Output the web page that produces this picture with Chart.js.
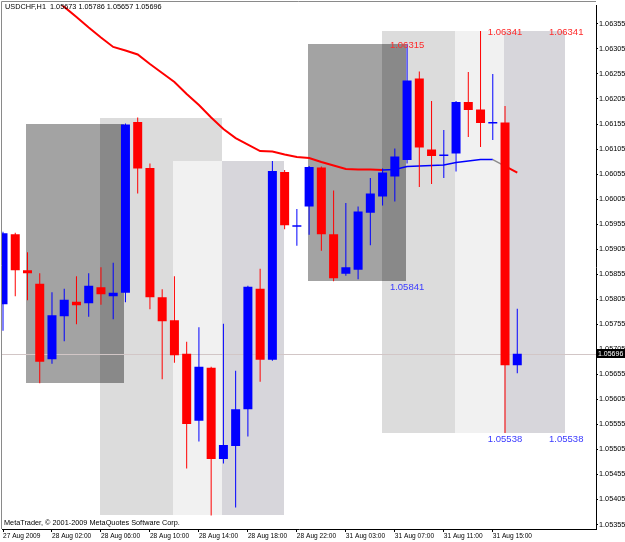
<!DOCTYPE html>
<html>
<head>
<meta charset="utf-8">
<script src="https://cdn.jsdelivr.net/npm/chart.js@4.4.0/dist/chart.umd.min.js"></script>
<style>
  body { margin: 0; background: #fff; }
  canvas { display: block; }
</style>
</head>
<body>
<canvas id="chart" width="625" height="542"></canvas>
<script>
// USDCHF H1 candles
const symbol = 'USDCHF,H1';
const opens  = [1.05795, 1.05935, 1.05863, 1.05836, 1.05685, 1.05771, 1.05800, 1.05797, 1.05829, 1.05811,
                1.05818, 1.06159, 1.06067, 1.05809, 1.05763, 1.05696, 1.05562, 1.05668, 1.05486, 1.05512,
                1.05585, 1.05826, 1.05684, 1.06059, 1.05950, 1.05990, 1.06068, 1.05935, 1.05856, 1.05864,
                1.05978, 1.06010, 1.06050, 1.06083, 1.06246, 1.06104, 1.06091, 1.06096, 1.06199, 1.06184,
                1.06156, 1.06158, 1.05673];
const highs  = [1.05940, 1.05938, 1.05899, 1.05857, 1.05819, 1.05826, 1.05851, 1.05857, 1.05869, 1.05878,
                1.06156, 1.06168, 1.06076, 1.05825, 1.05851, 1.05720, 1.05749, 1.05670, 1.05756, 1.05662,
                1.05832, 1.05866, 1.06081, 1.06063, 1.05985, 1.06071, 1.06070, 1.06022, 1.05997, 1.05990,
                1.06047, 1.06066, 1.06106, 1.06315, 1.06260, 1.06201, 1.06143, 1.06201, 1.06259, 1.06341,
                1.06255, 1.06191, 1.05786];
const lows   = [1.05742, 1.05811, 1.05803, 1.05637, 1.05676, 1.05721, 1.05755, 1.05770, 1.05794, 1.05765,
                1.05799, 1.06016, 1.05785, 1.05645, 1.05678, 1.05467, 1.05521, 1.05373, 1.05477, 1.05389,
                1.05531, 1.05640, 1.05682, 1.05945, 1.05912, 1.05934, 1.05902, 1.05841, 1.05852, 1.05845,
                1.05913, 1.05992, 1.06000, 1.06076, 1.06029, 1.06035, 1.06047, 1.06060, 1.06129, 1.06109,
                1.06123, 1.05538, 1.05657];
const closes = [1.05937, 1.05863, 1.05857, 1.05680, 1.05773, 1.05804, 1.05793, 1.05832, 1.05815, 1.05818,
                1.06154, 1.06066, 1.05809, 1.05761, 1.05693, 1.05556, 1.05670, 1.05486, 1.05514, 1.05585,
                1.05830, 1.05684, 1.06061, 1.05953, 1.05953, 1.06069, 1.05935, 1.05847, 1.05869, 1.05980,
                1.06016, 1.06058, 1.06090, 1.06242, 1.06108, 1.06091, 1.06094, 1.06199, 1.06183, 1.06157,
                1.06159, 1.05673, 1.05696];
// moving average (first bars run off the top)
const maLine = [1.06490, 1.06470, 1.06450, 1.06430, 1.06410, 1.06389, 1.06369, 1.06348, 1.06328, 1.06309,
                1.06302, 1.06294, 1.06275, 1.06257, 1.06239, 1.06215, 1.06193, 1.06168, 1.06145, 1.06127,
                1.06114, 1.06101, 1.06100, 1.06094, 1.06089, 1.06087, 1.06079, 1.06072, 1.06065, 1.06064,
                1.06064, 1.06063, 1.06064, 1.06070, 1.06071, 1.06072, 1.06073, 1.06078, 1.06081, 1.06084,
                1.06084, 1.06071, 1.06058];
const maBlue = [31, 40];   // segments drawn blue
const maGray = [40, 41];   // segment drawn gray

const tickBars   = [0, 4, 8, 12, 16, 20, 24, 28, 32, 36, 40];
const tickLabels = ['27 Aug 2009', '28 Aug 02:00', '28 Aug 06:00', '28 Aug 10:00', '28 Aug 14:00', '28 Aug 18:00',
                    '28 Aug 22:00', '31 Aug 03:00', '31 Aug 07:00', '31 Aug 11:00', '31 Aug 15:00'];
const priceTicks = [1.06355, 1.06305, 1.06255, 1.06205, 1.06155, 1.06105, 1.06055, 1.06005, 1.05955, 1.05905,
                    1.05855, 1.05805, 1.05755, 1.05705, 1.05655, 1.05605, 1.05555, 1.05505, 1.05455, 1.05405, 1.05355];

// rectangles: [fromBar, toBar, top price, bottom price]
const rangeBoxes = [[2, 10, 1.06156, 1.05637], [25, 33, 1.06315, 1.05841]];
const zonesA     = [[8, 18, 1.06168, 1.05373], [31, 41, 1.06341, 1.05538]];
const zonesB     = [[14, 23, 1.06081, 1.05373], [37, 46, 1.06341, 1.05538]];
// price tags: [bar, price, 'hi' | 'lo']
const priceTags  = [[33, 1.06315, 'hi'], [33, 1.05841, 'lo'], [41, 1.06341, 'hi'], [41, 1.05538, 'lo'],
                    [46, 1.06341, 'hi'], [46, 1.05538, 'lo']];

const FONT = '"Liberation Sans", Arial, sans-serif';
const RED = '#ff0000', BLUE = '#0000ff';
const last = closes.length - 1;

const barColors = opens.map((o, i) => closes[i] >= o ? BLUE : RED);
const wickData = lows.map((l, i) => ({x: i, y: [l, highs[i]]}));
const bodyData = opens.map((o, i) => ({x: i, y: [o, closes[i]]}));
const maData = maLine.map((v, i) => ({x: i, y: v}));

function maColor(i) {
    if (i >= maBlue[0] && i < maBlue[1]) return BLUE;
    if (i >= maGray[0] && i < maGray[1]) return '#8c8c8c';
    return RED;
}

function overlap(a, b) {
    return [Math.max(a[0], b[0]), Math.min(a[1], b[1]), Math.min(a[2], b[2]), Math.max(a[3], b[3])];
}

const overlay = {
    id: 'overlay',
    beforeDatasetsDraw(chart) {
        const {ctx, chartArea: a, scales: {x, y}} = chart;
        ctx.save();
        ctx.beginPath();
        ctx.rect(a.left, a.top, a.width, a.height);
        ctx.clip();
        const box = (r, col) => {
            const x0 = Math.round(x.getPixelForValue(r[0])) - 1, x1 = Math.round(x.getPixelForValue(r[1])) - 1;
            const y0 = Math.round(y.getPixelForValue(r[2])), y1 = Math.round(y.getPixelForValue(r[3]));
            if (x1 <= x0 || y1 <= y0) return;
            ctx.fillStyle = col;
            ctx.fillRect(x0, y0, x1 - x0, y1 - y0);
        };
        zonesA.forEach((z, i) => {
            box(z, '#dcdcdc');
            box(zonesB[i], '#d7d6db');
            box(overlap(z, zonesB[i]), '#f1f1f1');
            box(rangeBoxes[i], '#a3a3a3');
            box(overlap(rangeBoxes[i], z), '#898989');
        });
        // bid line
        const yb = Math.round(y.getPixelForValue(closes[last])) + 0.5;
        ctx.strokeStyle = '#d2c6c6';
        ctx.lineWidth = 1;
        ctx.beginPath();
        ctx.moveTo(a.left, yb);
        ctx.lineTo(a.right, yb);
        ctx.stroke();
        ctx.restore();
    },
    afterDraw(chart) {
        const {ctx, chartArea: a, scales: {x, y}} = chart;
        ctx.save();
        // frame top / left
        ctx.strokeStyle = '#8a8a8a';
        ctx.lineWidth = 1;
        ctx.beginPath();
        ctx.moveTo(1.5, a.bottom);
        ctx.lineTo(1.5, 1.5);
        ctx.lineTo(a.right, 1.5);
        ctx.stroke();

        // price tags
        ctx.font = '9.5px ' + FONT;
        ctx.textAlign = 'center';
        ctx.textBaseline = 'middle';
        priceTags.forEach(t => {
            const px = x.getPixelForValue(t[0]);
            const py = y.getPixelForValue(t[1]) + (t[2] === 'hi' ? 1 : 6.5);
            ctx.fillStyle = t[2] === 'hi' ? '#ff2a2a' : '#3a3aff';
            ctx.fillText(t[1].toFixed(5), px, py);
        });

        // header and copyright
        ctx.textAlign = 'left';
        ctx.fillStyle = '#000';
        ctx.font = '7.3px ' + FONT;
        const hdr = symbol + '  ' + [opens[last], highs[last], lows[last], closes[last]].map(v => v.toFixed(5)).join(' ');
        ctx.fillText(hdr, 5, 7);
        ctx.fillText('MetaTrader, \u00a9 2001-2009 MetaQuotes Software Corp.', 4, 523);

        // current price box on the axis
        const yc = Math.round(y.getPixelForValue(closes[last]));
        ctx.fillStyle = '#000';
        ctx.fillRect(597, yc - 5, 28, 9);
        ctx.fillStyle = '#fff';
        ctx.font = '7px ' + FONT;
        ctx.fillText(closes[last].toFixed(5), 598, yc);
        ctx.restore();
    }
};

new Chart(document.getElementById('chart'), {
    data: {
        datasets: [
            {
                type: 'line',
                data: maData,
                order: 3,
                borderWidth: 2,
                borderColor: RED,
                pointRadius: 0,
                tension: 0,
                segment: {
                    borderColor: c => maColor(c.p0DataIndex),
                    borderWidth: c => maColor(c.p0DataIndex) === RED ? 2 : 1.5
                }
            },
            {
                type: 'bar',
                data: wickData,
                order: 2,
                grouped: false,
                barThickness: 1,
                inflateAmount: 0,
                backgroundColor: barColors
            },
            {
                type: 'bar',
                data: bodyData,
                order: 1,
                grouped: false,
                barThickness: 9,
                minBarLength: 1.5,
                inflateAmount: 0,
                backgroundColor: barColors
            }
        ]
    },
    options: {
        responsive: false,
        animation: false,
        layout: { padding: { left: 2, top: 2, right: 0, bottom: 0 } },
        plugins: { legend: { display: false }, tooltip: { enabled: false } },
        scales: {
            x: {
                type: 'linear',
                position: 'bottom',
                min: -0.082,
                max: 48.43,
                offset: false,
                afterBuildTicks: s => { s.ticks = tickBars.map(v => ({ value: v })); },
                afterFit: s => { s.height = 13; },
                ticks: {
                    autoSkip: false,
                    maxRotation: 0,
                    align: 'start',
                    padding: 0,
                    color: '#000',
                    font: { family: FONT, size: 6.6 },
                    callback: (v, i) => tickLabels[i]
                },
                grid: { drawOnChartArea: false, tickLength: 3, color: '#000', offset: false },
                border: { color: '#000' }
            },
            y: {
                type: 'linear',
                position: 'right',
                min: 1.05346,
                max: 1.06392,
                afterBuildTicks: s => { s.ticks = priceTicks.map(v => ({ value: v })); },
                afterFit: s => { s.width = 29; },
                ticks: {
                    padding: 1,
                    color: '#000',
                    font: { family: FONT, size: 7.3 },
                    callback: v => v.toFixed(5)
                },
                grid: { drawOnChartArea: false, tickLength: 2, color: '#000' },
                border: { color: '#000' }
            }
        }
    },
    plugins: [overlay]
});
</script>
</body>
</html>
